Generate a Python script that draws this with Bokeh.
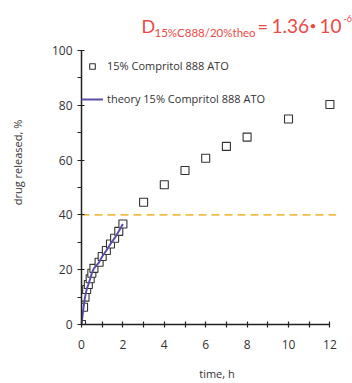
from bokeh.plotting import figure
from bokeh.models import (ColumnDataSource, FixedTicker, Label, Legend, LegendItem, Range1d)
from bokeh.embed import file_html
from bokeh.resources import INLINE

# ---- data ----
time_h = [0, 0.1, 0.17, 0.25, 0.33, 0.42, 0.5, 0.6, 0.85, 1.0, 1.2, 1.4, 1.6, 1.8, 2.0,
          3, 4, 5, 6, 7, 8, 10, 12]
released = [0, 6.3, 10, 12.8, 14.6, 16.7, 18.7, 20.5, 22.7, 24.8, 27, 29.4, 31.5, 34, 36.7,
            44.6, 51, 56.2, 60.7, 65, 68.4, 75, 80.3]
theory_t = [0, 0.1, 0.17, 0.25, 0.33, 0.42, 0.5, 0.6, 0.85, 1.0, 1.2, 1.4, 1.6, 1.8, 2.0]
theory_r = [0, 6.3, 10, 12.8, 14.6, 16.7, 18.7, 20.5, 22.7, 24.8, 27, 29.4, 31.5, 34, 36.7]
threshold_y = [40, 40]
threshold_x = [0, 12.3]
x_ticks = [0, 2, 4, 6, 8, 10, 12]
x_minor = [1, 3, 5, 7, 9, 11]
y_ticks = [0, 20, 40, 60, 80, 100]
y_minor = [10, 30, 50, 70, 90]
series_label = "15% Compritol 888 ATO"
theory_label = "theory 15% Compritol 888 ATO"

FONT = "Open Sans"
TXT = "#333333"

FL = 81    # frame left (page px)
FB = 324   # frame bottom (page px)
FW = 271
FH = 324

p = figure(output_backend="svg", toolbar_location=None,
           x_range=Range1d(0, FW / 20.7), y_range=Range1d(0, FH / 2.74),
           frame_width=FW, frame_height=FH,
           min_border_left=FL, min_border_right=0, min_border_top=0, min_border_bottom=59)
p.outline_line_color = None
p.grid.visible = False
p.background_fill_color = "white"

for ax in (p.xaxis[0], p.yaxis[0]):
    ax.axis_line_color = "#222222"
    ax.axis_line_width = 1.5
    ax.major_tick_line_color = "#222222"
    ax.minor_tick_line_color = "#222222"
    ax.major_tick_line_width = 1.2
    ax.minor_tick_line_width = 1.2
    ax.major_label_text_font = FONT
    ax.major_label_text_font_size = "12px"
    ax.major_label_text_color = TXT
    ax.axis_label_text_font = FONT
    ax.axis_label_text_font_size = "11px"
    ax.axis_label_text_font_style = "normal"
    ax.axis_label_text_color = TXT

p.xaxis.ticker = FixedTicker(ticks=x_ticks, minor_ticks=x_minor)
p.xaxis.bounds = (0, 12)
p.xaxis.major_tick_in = 3
p.xaxis.major_tick_out = 3
p.xaxis.minor_tick_in = 3
p.xaxis.minor_tick_out = 3
p.xaxis.major_label_standoff = 12
p.xaxis.axis_label = "time, h"
p.xaxis.axis_label_standoff = 14

p.yaxis.ticker = FixedTicker(ticks=y_ticks, minor_ticks=y_minor)
p.yaxis.bounds = (0, 100)
p.yaxis.major_tick_in = 3
p.yaxis.major_tick_out = 4
p.yaxis.minor_tick_in = 0
p.yaxis.minor_tick_out = 4
p.yaxis.major_label_standoff = 5
p.yaxis.axis_label = "drug released, %"
p.yaxis.axis_label_standoff = 24

p.line(threshold_x, threshold_y, line_color="#f0bd45", line_width=1.6, line_dash="8 5")

src = ColumnDataSource(dict(t=time_h, r=released))
sq = p.scatter("t", "r", source=src, marker="square", size=8,
               line_color="#333333", line_width=1.1, fill_color="white")

th = p.line(theory_t, theory_r, line_color="#5b4ea8", line_width=2)

legend = Legend(items=[LegendItem(label=series_label, renderers=[sq]),
                       LegendItem(label=theory_label, renderers=[th])],
                location=(0, 218), padding=0, margin=0, spacing=18,
                glyph_width=22, glyph_height=14, label_height=14, label_standoff=4,
                border_line_color=None, background_fill_alpha=0,
                label_text_font=FONT, label_text_font_size="11px", label_text_color=TXT)
p.add_layout(legend, "center")

RED = "#ea4a45"


def red(px, base, txt, size):
    p.add_layout(Label(x=px - FL, y=FB - base, x_units="screen", y_units="screen", text=txt,
                       text_font="Lato", text_font_size=size, text_color=RED,
                       text_baseline="alphabetic"))


red(141, 25, "D", "18px")
red(154, 32, "15%C888/20%theo", "11.5px")
red(257, 25, "=", "18px")
red(271, 25, "1.36", "19px")
red(309, 25, "•", "12px")
red(319, 25, "10", "19px")
red(343, 18, "-6", "9px")

open("out.html", "w").write(file_html(p, INLINE))
